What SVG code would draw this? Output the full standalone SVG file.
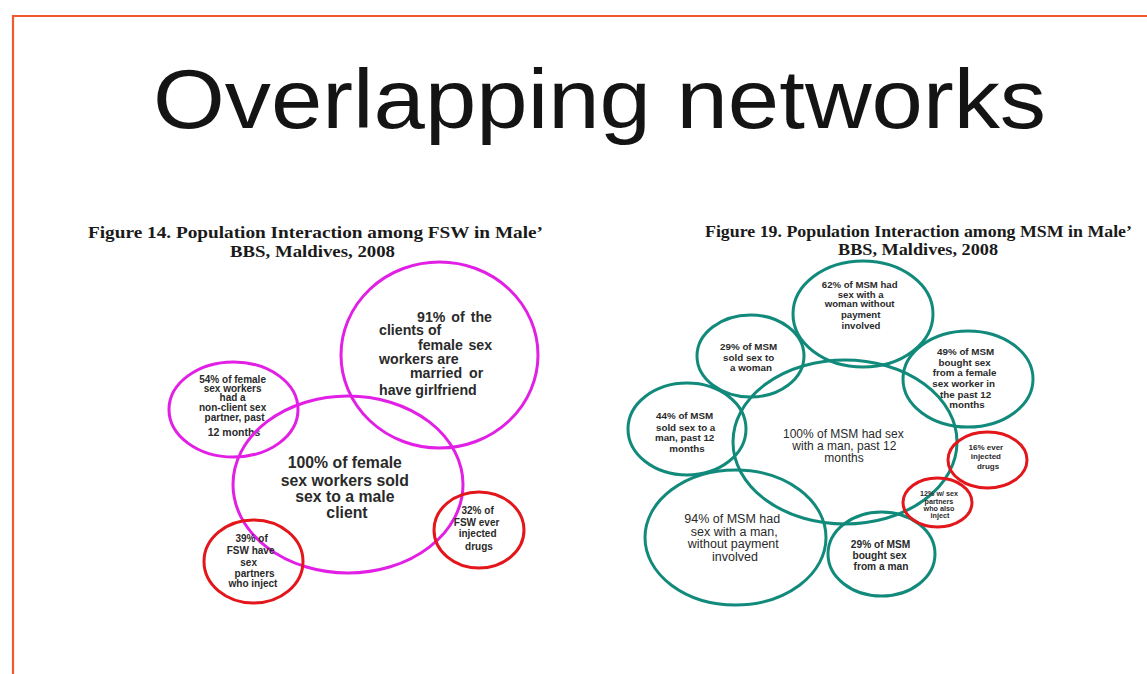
<svg xmlns="http://www.w3.org/2000/svg" width="1147" height="674" viewBox="0 0 1147 674">
  <style>
    .title { font-family: "Liberation Sans", Arial, sans-serif; font-size: 83px; fill: #141414; }
    .cap { font-family: "Liberation Serif", "Times New Roman", serif; font-weight: bold; font-size: 17px; fill: #1a1a1a; }
    .t { font-family: "Liberation Sans", Arial, sans-serif; font-weight: bold; fill: #2a2a2a; }
    .tr { font-family: "Liberation Sans", Arial, sans-serif; fill: #2a2a2a; }
    .mag { fill: none; stroke: #e21fe4; stroke-width: 3; }
    .red { fill: none; stroke: #e3161b; stroke-width: 3; }
    .teal { fill: none; stroke: #128a7b; stroke-width: 3; }
  </style>

  <rect width="1147" height="674" fill="#ffffff"/>
  <!-- slide frame -->
  <path d="M13 674 V16 H1147" fill="none" stroke="#f05a2c" stroke-width="2.2"/>

  <text class="title" x="153" y="128" textLength="893" lengthAdjust="spacingAndGlyphs">Overlapping networks</text>

  <!-- left figure caption -->
  <text class="cap" x="88" y="238" textLength="455" lengthAdjust="spacingAndGlyphs">Figure 14. Population Interaction among FSW in Male’</text>
  <text class="cap" x="230" y="257" textLength="165" lengthAdjust="spacingAndGlyphs">BBS, Maldives, 2008</text>

  <!-- right figure caption -->
  <text class="cap" x="705" y="237" textLength="427" lengthAdjust="spacingAndGlyphs">Figure 19. Population Interaction among MSM in Male’</text>
  <text class="cap" x="838" y="255" textLength="160" lengthAdjust="spacingAndGlyphs">BBS, Maldives, 2008</text>

  <!-- ===== FSW population interaction ===== -->
  <g id="fsw-clients">
    <ellipse class="mag" cx="439.5" cy="355" rx="98.5" ry="93"/>
    <text class="t" font-size="14.2">
      <tspan x="417" y="322" word-spacing="2">91% of the</tspan>
      <tspan x="379" y="335">clients of</tspan>
      <tspan x="418" y="350" word-spacing="1.5">female sex</tspan>
      <tspan x="379" y="364">workers are</tspan>
      <tspan x="410" y="378" word-spacing="3">married or</tspan>
      <tspan x="379" y="395">have girlfriend</tspan>
    </text>
  </g>

  <g id="fsw-nonclient">
    <ellipse class="mag" cx="233.5" cy="409.5" rx="64.5" ry="47.5"/>
    <text class="t" font-size="10" text-anchor="middle">
      <tspan x="234" y="383">54% of female</tspan>
      <tspan x="234" y="392">sex workers</tspan>
      <tspan x="234" y="401">had a</tspan>
      <tspan x="234" y="411">non-client sex</tspan>
      <tspan x="236" y="421">partner, past</tspan>
      <tspan x="234" y="436" font-size="10.5">12 months</tspan>
    </text>
  </g>

  <g id="fsw-core">
    <ellipse class="mag" cx="348" cy="484.5" rx="115" ry="88.5"/>
    <text class="t" font-size="15.8" text-anchor="middle">
      <tspan x="347" y="468">100% of female</tspan>
      <tspan x="347" y="486">sex workers sold</tspan>
      <tspan x="347" y="502">sex to a male</tspan>
      <tspan x="347" y="518">client</tspan>
    </text>
  </g>

  <g id="fsw-partners-inject">
    <ellipse class="red" cx="253.5" cy="561.5" rx="49.5" ry="41.5"/>
    <text class="t" font-size="10" text-anchor="middle">
      <tspan x="253" y="542">39% of</tspan>
      <tspan x="252" y="554">FSW have</tspan>
      <tspan x="250" y="566">sex</tspan>
      <tspan x="256" y="577">partners</tspan>
      <tspan x="253" y="587">who inject</tspan>
    </text>
  </g>

  <g id="fsw-inject">
    <ellipse class="red" cx="479" cy="530" rx="45" ry="38"/>
    <text class="t" font-size="10" text-anchor="middle">
      <tspan x="479" y="514">32% of</tspan>
      <tspan x="478" y="526">FSW ever</tspan>
      <tspan x="479" y="537">injected</tspan>
      <tspan x="479" y="550">drugs</tspan>
    </text>
  </g>

  <!-- ===== MSM population interaction ===== -->
  <g id="msm-core">
    <ellipse class="teal" cx="845" cy="442" rx="112" ry="82"/>
    <text class="tr" font-size="12" text-anchor="middle">
      <tspan x="845" y="438">100% of MSM had sex</tspan>
      <tspan x="846" y="450">with a man, past 12</tspan>
      <tspan x="844" y="462">months</tspan>
    </text>
  </g>

  <g id="msm-woman-unpaid">
    <ellipse class="teal" cx="863" cy="314" rx="70" ry="53"/>
    <text class="t" font-size="9.6" text-anchor="middle">
      <tspan x="861" y="288">62% of MSM had</tspan>
      <tspan x="862" y="297.5">sex with a</tspan>
      <tspan x="861" y="307">woman without</tspan>
      <tspan x="862" y="317.5">payment</tspan>
      <tspan x="861" y="329">involved</tspan>
    </text>
  </g>

  <g id="msm-sold-woman">
    <ellipse class="teal" cx="750.5" cy="356" rx="53.5" ry="41"/>
    <text class="t" font-size="9.8" text-anchor="middle">
      <tspan x="750" y="350">29% of MSM</tspan>
      <tspan x="750" y="361">sold sex to</tspan>
      <tspan x="751" y="371">a woman</tspan>
    </text>
  </g>

  <g id="msm-bought-fsw">
    <ellipse class="teal" cx="968" cy="379" rx="65" ry="48"/>
    <text class="t" font-size="9.8" text-anchor="middle">
      <tspan x="967" y="355">49% of MSM</tspan>
      <tspan x="966" y="366">bought sex</tspan>
      <tspan x="966" y="376">from a female</tspan>
      <tspan x="965" y="387">sex worker in</tspan>
      <tspan x="967" y="398">the past 12</tspan>
      <tspan x="967" y="408">months</tspan>
    </text>
  </g>

  <g id="msm-sold-man">
    <ellipse class="teal" cx="687" cy="429" rx="59" ry="46"/>
    <text class="t" font-size="9.8" text-anchor="middle">
      <tspan x="686" y="419">44% of MSM</tspan>
      <tspan x="687" y="431">sold sex to a</tspan>
      <tspan x="686" y="441">man, past 12</tspan>
      <tspan x="687" y="452">months</tspan>
    </text>
  </g>

  <g id="msm-man-unpaid">
    <ellipse class="teal" cx="735.5" cy="537.5" rx="90.5" ry="67.5"/>
    <text class="tr" font-size="12.5" text-anchor="middle">
      <tspan x="734" y="523">94% of MSM had</tspan>
      <tspan x="736" y="535.5">sex with a man,</tspan>
      <tspan x="735" y="547.5">without payment</tspan>
      <tspan x="735" y="561">involved</tspan>
    </text>
  </g>

  <g id="msm-bought-man">
    <ellipse class="teal" cx="881.5" cy="554" rx="53.5" ry="42"/>
    <text class="t" font-size="10.2" text-anchor="middle">
      <tspan x="882" y="548">29% of MSM</tspan>
      <tspan x="881" y="559">bought sex</tspan>
      <tspan x="881" y="570">from a man</tspan>
    </text>
  </g>

  <g id="msm-inject">
    <ellipse class="red" cx="987.5" cy="460" rx="39.5" ry="28"/>
    <text class="t" font-size="8" text-anchor="middle">
      <tspan x="987" y="450">16% ever</tspan>
      <tspan x="987" y="459">injected</tspan>
      <tspan x="988" y="469">drugs</tspan>
    </text>
  </g>

  <g id="msm-partners-inject">
    <ellipse class="red" cx="937.5" cy="502.5" rx="34.5" ry="24.5"/>
    <text class="t" font-size="7.2" text-anchor="middle">
      <tspan x="940" y="496">12% w/ sex</tspan>
      <tspan x="940" y="504">partners</tspan>
      <tspan x="940" y="511">who also</tspan>
      <tspan x="940" y="518">inject</tspan>
    </text>
  </g>
</svg>
